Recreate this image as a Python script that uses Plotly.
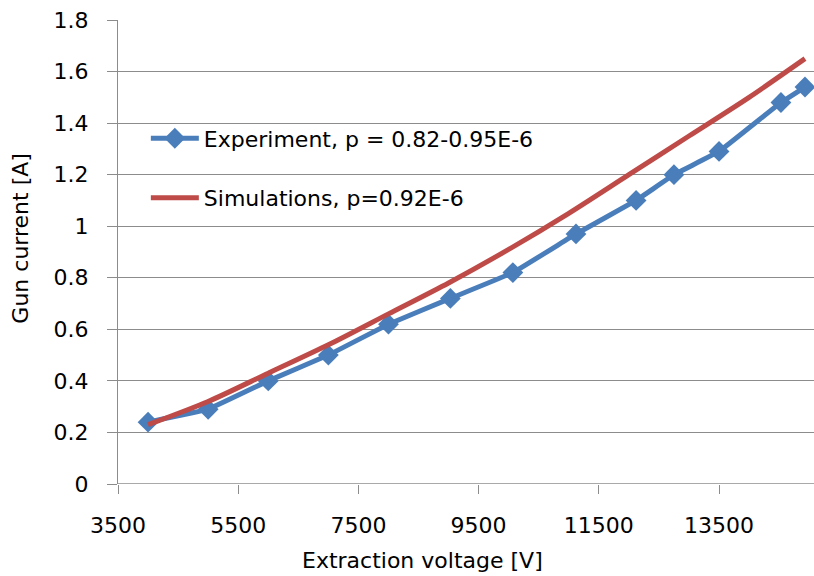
import plotly.graph_objects as go

# Data
exp_x = [4000, 5000, 6000, 7000, 8000, 9030, 10070, 11120, 12120, 12750, 13500, 14530, 14930]
exp_y = [0.24, 0.29, 0.40, 0.50, 0.62, 0.72, 0.82, 0.97, 1.10, 1.20, 1.29, 1.48, 1.54]
sim_x = [4000, 5000, 6000, 7000, 8000, 9000, 10000, 11000, 12000, 13000, 14000, 14930]
sim_y = [0.23, 0.32, 0.43, 0.54, 0.66, 0.78, 0.91, 1.05, 1.20, 1.35, 1.50, 1.65]
x_ticks = [3500, 5500, 7500, 9500, 11500, 13500]
y_ticks = [0, 0.2, 0.4, 0.6, 0.8, 1, 1.2, 1.4, 1.6, 1.8]

FONT = "DejaVu Sans"
FS = 22
BLUE = "#4a7ebb"
RED = "#be4b48"
GRID = "#8c8c8c"

fig = go.Figure()
fig.add_trace(go.Scatter(
    x=exp_x, y=exp_y, mode="lines+markers",
    name="Experiment, p = 0.82-0.95E-6", legendgroup="a",
    line=dict(color=BLUE, width=5, shape="spline", smoothing=0.2),
    marker=dict(symbol="diamond", size=16, color=BLUE),
))
fig.add_trace(go.Scatter(
    x=sim_x, y=sim_y, mode="lines",
    name="Simulations, p=0.92E-6", legendgroup="b",
    line=dict(color=RED, width=5, shape="spline", smoothing=0.8),
))

fig.update_layout(
    width=814, height=576,
    margin=dict(l=118, r=0, t=20, b=92, autoexpand=False),
    paper_bgcolor="white", plot_bgcolor="white",
    font=dict(family=FONT, size=FS, color="black"),
    showlegend=True,
    legend=dict(x=0.04, y=0.79, xanchor="left", yanchor="top",
                bgcolor="rgba(0,0,0,0)", font=dict(size=FS, family=FONT),
                tracegroupgap=28, itemwidth=48),
    xaxis=dict(range=[3500, 15080], tickvals=x_ticks, ticktext=[str(v) for v in x_ticks],
               automargin=False,
               showgrid=False, zeroline=False, showline=False,
               ticks="outside", ticklen=9, tickcolor=GRID, tickwidth=1.3,
               ticklabelstandoff=13, tickfont=dict(size=FS)),
    yaxis=dict(range=[0, 1.8], tickvals=y_ticks, ticktext=[("%g" % v) for v in y_ticks],
               automargin=False,
               showgrid=True, gridcolor=GRID, gridwidth=1.3, zeroline=False,
               showline=True, linecolor=GRID, linewidth=1.3,
               ticks="outside", ticklen=10, tickcolor=GRID, tickwidth=1.3,
               ticklabelstandoff=14, tickfont=dict(size=FS)),
    annotations=[
        dict(text="Extraction voltage [V]", xref="paper", yref="paper",
             x=0.438, y=-0.165, xanchor="center", yanchor="middle",
             showarrow=False, font=dict(size=FS, family=FONT)),
        dict(text="Gun current [A]", xref="paper", yref="paper",
             x=-0.14, y=0.53, xanchor="center", yanchor="middle",
             textangle=-90, showarrow=False, font=dict(size=FS, family=FONT)),
    ],
)
fig.add_hline(y=0, line=dict(color=GRID, width=1.3), layer="below")

fig.write_html("out.html",
               config={"displayModeBar": False},
               post_script="document.body.style.margin='0px';document.body.style.overflow='hidden';")
